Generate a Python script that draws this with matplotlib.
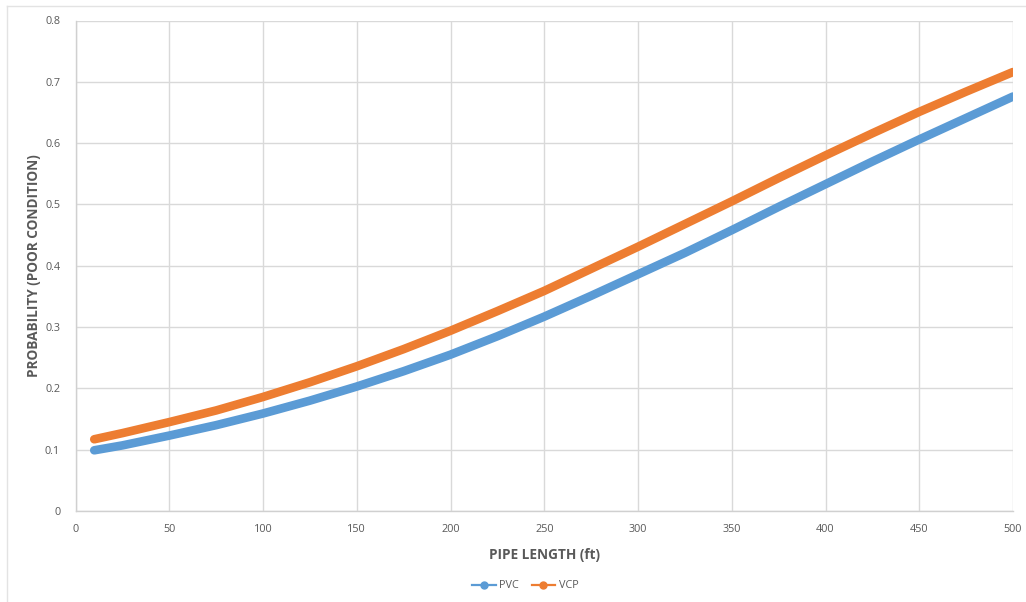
import matplotlib
matplotlib.use("Agg")
import matplotlib.pyplot as plt
from matplotlib.lines import Line2D

# Pipe length (ft) and probability of poor condition for each pipe material
pipe_length = [10, 25, 50, 75, 100, 125, 150, 175, 200, 225, 250,
               275, 300, 325, 350, 375, 400, 425, 450, 475, 500]
pvc = [0.099, 0.107, 0.123, 0.140, 0.159, 0.180, 0.203, 0.228, 0.255, 0.285, 0.317,
       0.351, 0.386, 0.421, 0.458, 0.496, 0.533, 0.570, 0.606, 0.641, 0.676]
vcp = [0.117, 0.127, 0.145, 0.164, 0.186, 0.210, 0.236, 0.264, 0.294, 0.326, 0.359,
       0.395, 0.431, 0.468, 0.505, 0.543, 0.580, 0.616, 0.651, 0.684, 0.716]

series_names = ["PVC", "VCP"]
x_ticks = [0, 50, 100, 150, 200, 250, 300, 350, 400, 450, 500]
y_ticks = [0, 0.1, 0.2, 0.3, 0.4, 0.5, 0.6, 0.7, 0.8]
y_tick_labels = ["0", "0.1", "0.2", "0.3", "0.4", "0.5", "0.6", "0.7", "0.8"]

BLUE = "#5B9BD5"
ORANGE = "#ED7D31"
GRID = "#D9D9D9"
TEXT = "#595959"

plt.rcParams["font.family"] = ["Open Sans", "DejaVu Sans"]

W, H = 1026, 602
fig = plt.figure(figsize=(W / 100, H / 100), dpi=100)
fig.patch.set_facecolor("white")

# Outer chart frame (top and left edges)
fig.add_artist(Line2D([7 / W, 1.0], [1 - 6 / H, 1 - 6 / H], transform=fig.transFigure,
                      color="#E3E3E3", lw=1))
fig.add_artist(Line2D([7 / W, 7 / W], [0.0, 1 - 6 / H], transform=fig.transFigure,
                      color="#E3E3E3", lw=1))

ax = fig.add_axes([75.5 / W, 1 - 511 / H, (1013 - 75.5) / W, (511 - 20.5) / H])

for name, vals, col in zip(series_names, [pvc, vcp], [BLUE, ORANGE]):
    ax.plot(pipe_length, vals, color=col, lw=6.2, solid_capstyle="round",
            solid_joinstyle="round", label=name, zorder=3)

ax.set_xlim(0, 500)
ax.set_ylim(0, 0.8)
ax.set_xticks(x_ticks)
ax.set_yticks(y_ticks)
ax.set_yticklabels(y_tick_labels)
ax.grid(True, color=GRID, lw=1)
ax.set_axisbelow(True)
for side in ["top", "right"]:
    ax.spines[side].set_visible(False)
for side in ["left", "bottom"]:
    ax.spines[side].set_color("#D0D0D0")
    ax.spines[side].set_linewidth(1)
ax.tick_params(axis="both", length=0, labelsize=7.8, colors=TEXT)
ax.tick_params(axis="y", pad=11)
ax.tick_params(axis="x", pad=9)

ax.set_xlabel("PIPE LENGTH (ft)", fontsize=9.8, fontweight="bold", color=TEXT, labelpad=10)
ax.set_ylabel("PROBABILITY (POOR CONDITION)", fontsize=9.8, fontweight="bold", color=TEXT,
              labelpad=3)

handles = [Line2D([0], [0], color=c, lw=1.6, marker="o", markersize=5) for c in (BLUE, ORANGE)]
leg = fig.legend(handles, series_names, loc="center", bbox_to_anchor=(525 / W, 1 - 586 / H),
                 ncol=2, frameon=False, fontsize=7.8, handlelength=2.2, handletextpad=0.3,
                 columnspacing=1.2)
for t in leg.get_texts():
    t.set_color(TEXT)

fig.savefig("out.png", dpi=100, facecolor="white")
